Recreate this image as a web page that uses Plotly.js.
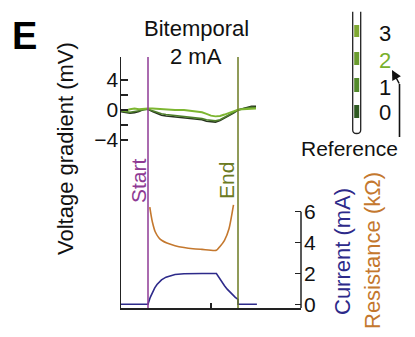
<!DOCTYPE html>
<html><head><meta charset="utf-8">
<script src="https://cdn.plot.ly/plotly-3.0.1.min.js"></script>
<style>html,body{margin:0;padding:0;background:#fff}#chart{width:415px;height:337px}</style>
</head><body><div id="chart"></div>
<script>
// ---- data (time in s, stimulation from 0 to 10) ----
const voltTime = [-3, -2.5, -2, -1.5, -1, -0.5, 0, 0.5, 1, 1.5, 2, 3, 4, 5, 6, 6.5, 7, 7.5, 8, 8.5, 9, 9.5, 10, 10.5, 11, 11.5, 12];
const voltCh0 = [-0.2, -0.3, -0.4, -0.35, -0.2, 0.1, 0.1, -0.2, -0.5, -0.7, -0.8, -0.9, -1.0, -1.1, -1.3, -1.5, -1.6, -1.6, -1.4, -1.1, -0.8, -0.4, 0, 0.2, 0.4, 0.5, 0.5];
const voltCh1 = [-0.1, -0.2, -0.3, -0.2, -0.1, 0.1, 0.1, -0.1, -0.35, -0.5, -0.6, -0.75, -0.85, -0.95, -1.15, -1.3, -1.4, -1.45, -1.3, -1.0, -0.7, -0.35, 0, 0.15, 0.3, 0.35, 0.3];
const voltCh3 = [0.0, -0.1, 0.1, 0.2, 0.1, 0.2, 0.2, 0.2, 0.15, 0.1, 0.05, 0.0, 0.0, -0.1, -0.3, -0.5, -0.75, -0.85, -0.8, -0.6, -0.4, -0.2, 0.05, 0.1, 0.15, 0.2, 0.2];
const curTime = [-3, 0, 0.25, 0.5, 0.75, 1, 1.5, 2, 2.5, 3, 4, 5, 6, 7.6, 7.9, 8.2, 8.5, 8.8, 9.1, 9.4, 9.7, 10, 10, 12.1];
const currentMA = [0, 0, 0.45, 0.8, 1.07, 1.28, 1.58, 1.76, 1.87, 1.93, 1.98, 2.0, 2.0, 2.0, 1.72, 1.45, 1.2, 0.98, 0.78, 0.6, 0.45, 0.32, 0, 0];
const resTime = [0.2, 0.35, 0.5, 0.8, 1.2, 1.6, 2.1, 3.0, 4.0, 5.0, 6.0, 7.6, 8.0, 8.5, 9.0, 9.5];
const resistanceKOhm = [6.3, 5.75, 5.3, 4.7, 4.32, 4.12, 3.97, 3.8, 3.68, 3.6, 3.56, 3.5, 3.75, 4.15, 4.9, 6.45];
const stimStart = 0, stimEnd = 10;
const timeTicks = [7];
const voltTickVals = [-4, -2, 0, 2, 4];
const voltTickText = ['\u22124', '', '0', '', '4'];
const rightTickVals = [0, 2, 4, 6];
const channelLabels = ['3', '2', '1', '0'];
const referenceChannel = '2';

// ---- styling ----
const FONT = 'Liberation Sans, Arial, Helvetica, sans-serif';
const L = 121, R = 301, T = 57, B = 308;
const px = x => (x - L) / (R - L);
const py = y => (B - y) / (B - T);
const cDark = '#28351f', cMid = '#4e7f2b', cLight = '#7db631';
const cCur = '#2d2a8a', cRes = '#c4782e', cStart = '#8e3a94', cEnd = '#6b7a22';
const segColors = {'3': '#7fa832', '2': '#6b9c2f', '1': '#538a2c', '0': '#2f5a22'};

const traces = [
  {x: voltTime, y: voltCh0, mode: 'lines', line: {color: cDark, width: 1.7}, yaxis: 'y'},
  {x: voltTime, y: voltCh1, mode: 'lines', line: {color: cMid, width: 1.7}, yaxis: 'y'},
  {x: voltTime, y: voltCh3, mode: 'lines', line: {color: cLight, width: 1.9}, yaxis: 'y'},
  {x: curTime, y: currentMA, mode: 'lines', line: {color: cCur, width: 1.6}, yaxis: 'y2'},
  {x: resTime, y: resistanceKOhm, mode: 'lines', line: {color: cRes, width: 1.6, shape: 'spline', smoothing: 0.6}, yaxis: 'y2'}
];

const shapes = [
  {type: 'line', xref: 'x', yref: 'paper', x0: stimStart, x1: stimStart, y0: 0, y1: 1, line: {color: cStart, width: 1.5}},
  {type: 'line', xref: 'x', yref: 'paper', x0: stimEnd, x1: stimEnd, y0: 0, y1: 1, line: {color: cEnd, width: 1.5}},
  {type: 'line', xref: 'paper', yref: 'y2', x0: 1, x1: 1, y0: -0.24, y1: 6, line: {color: '#222', width: 1.5}}
];
// electrode tube
const tx0 = px(352.7), tx1 = px(360.7), txm = px(356.7);
const tTop = py(11.7), tLow = py(130), tBot = py(133.5);
shapes.push({type: 'path', xref: 'paper', yref: 'paper',
  path: `M ${tx0},${tTop} L ${tx0},${tLow} Q ${tx0},${tBot} ${txm},${tBot} Q ${tx1},${tBot} ${tx1},${tLow} L ${tx1},${tTop}`,
  line: {color: '#222', width: 1.3}});
const segY = {'3': [25, 37], '2': [52, 65], '1': [78, 92], '0': [105, 118]};
const labY = {'3': 33.5, '2': 60, '1': 87, '0': 112};
channelLabels.forEach(ch => {
  shapes.push({type: 'rect', xref: 'paper', yref: 'paper', x0: px(354.2), x1: px(359.2),
    y0: py(segY[ch][1]), y1: py(segY[ch][0]), fillcolor: segColors[ch], line: {width: 0}});
});
// arrow stem
shapes.push({type: 'line', xref: 'paper', yref: 'paper', x0: px(399.5), x1: px(399.5), y0: py(137), y1: py(84), line: {color: '#111', width: 1.6}});

const annotations = [
  {text: '<b>E</b>', x: px(24), y: py(36), font: {size: 38, color: '#000'}},
  {text: 'Bitemporal', x: px(196), y: py(28), font: {size: 22, color: '#111'}},
  {text: '2 mA', x: px(196), y: py(56), font: {size: 22, color: '#111'}},
  {text: 'Start', x: px(138), y: py(181), textangle: -90, font: {size: 21, color: cStart}},
  {text: 'End', x: px(226), y: py(181), textangle: -90, font: {size: 21, color: cEnd}},
  {text: 'Voltage gradient (mV)', x: px(65), y: py(149), textangle: -90, font: {size: 22, color: '#111'}},
  {text: 'Current (mA)', x: px(342), y: py(252), textangle: -90, font: {size: 22, color: cCur}},
  {text: 'Resistance (k\u03a9)', x: px(372), y: py(251), textangle: -90, font: {size: 22, color: cRes}},
  {text: 'Reference', x: px(349), y: py(148), font: {size: 21, color: '#111'}},
  {text: '', x: px(392), y: py(70), showarrow: true, ax: 8, ay: 15, arrowhead: 2, arrowsize: 1.3, arrowwidth: 1.5, arrowcolor: '#111', font: {size: 10}}
];
channelLabels.forEach(ch => {
  annotations.push({text: ch, x: px(384.5), y: py(labY[ch]),
    font: {size: 22, color: ch === referenceChannel ? '#78b02c' : '#111'}});
});
annotations.forEach(a => {
  a.xref = 'paper'; a.yref = 'paper';
  if (a.showarrow === undefined) a.showarrow = false;
  if (a.xanchor === undefined) a.xanchor = 'center';
  if (a.yanchor === undefined) a.yanchor = 'middle';
  if (!a.font) a.font = {};
  a.font.family = FONT;
});

const layout = {
  width: 415, height: 337,
  margin: {l: L, r: 415 - R, t: T, b: 337 - B, pad: 0},
  paper_bgcolor: '#fff', plot_bgcolor: '#fff',
  showlegend: false,
  font: {family: FONT, size: 21, color: '#111'},
  xaxis: {range: [-3, 17], showgrid: false, zeroline: false, showline: true, linecolor: '#222', linewidth: 1.5,
    tickvals: timeTicks, ticks: 'inside', ticklen: 5, tickwidth: 1.5, tickcolor: '#222', showticklabels: false, fixedrange: true},
  yaxis: {range: [-26.4, 7.07], showgrid: false, zeroline: false, showline: true, linecolor: '#222', linewidth: 1.5,
    tickvals: voltTickVals, ticktext: voltTickText, ticks: 'inside', ticklen: 7, tickwidth: 1.5, tickcolor: '#222',
    ticklabelstandoff: -3, tickfont: {size: 21, color: '#111'}},
  yaxis2: {overlaying: 'y', side: 'right', anchor: 'x', range: [-0.24, 16.03], showgrid: false, zeroline: false, showline: false,
    tickvals: rightTickVals, ticks: 'inside', ticklen: 6, tickwidth: 1.5, tickcolor: '#222',
    ticklabelstandoff: 2, tickfont: {size: 21, color: '#111'}},
  shapes: shapes,
  annotations: annotations
};

Plotly.newPlot('chart', traces, layout, {staticPlot: true, displayModeBar: false});
</script>
</body></html>
